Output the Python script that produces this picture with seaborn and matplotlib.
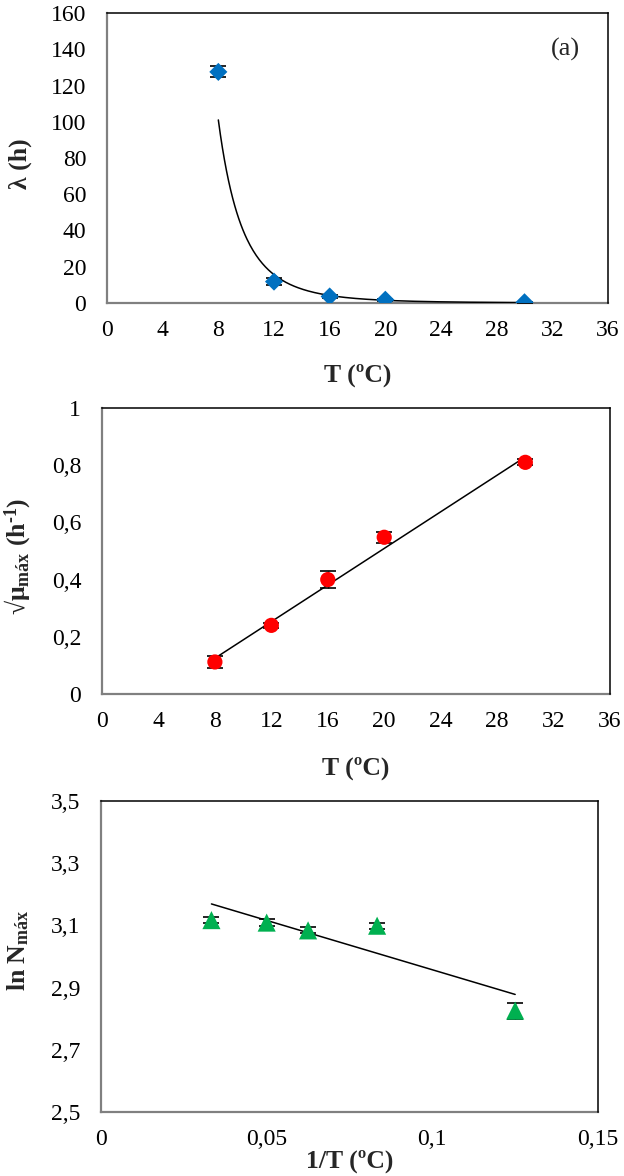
import numpy as np
import pandas as pd
import seaborn as sns
import matplotlib
matplotlib.use("Agg")
import matplotlib.pyplot as plt
from matplotlib.ticker import FuncFormatter, MultipleLocator

# ---------------- data ----------------
T = [8, 12, 16, 20, 30]
lam = [127.5, 11.8, 3.6, 1.8, 0.4]
lam_err = [3.0, 2.0, 0.6, 0.5, 0.3]
lam_fit_a = 101.0          # power-law trendline value at T = 8
lam_fit_b = -4.6           # power-law exponent

sqrt_mu = [0.112, 0.240, 0.400, 0.548, 0.810]
sqrt_mu_err = [0.02, 0.01, 0.03, 0.02, 0.01]
mu_fit_start = 0.125       # line value at T = 8
mu_fit_slope = 0.0320

invT = [1 / 30, 1 / 20, 1 / 16, 1 / 12, 1 / 8]
lnN = [3.117, 3.109, 3.084, 3.099, 2.826]
lnN_err = [0.01, 0.01, 0.01, 0.01, 0.026]
lnN_fit = [3.169, 2.878]   # trendline at the first and last 1/T

xticks_T = [0, 4, 8, 12, 16, 20, 24, 28, 32, 36]
yticks_lam = [0, 20, 40, 60, 80, 100, 120, 140, 160]
yticks_mu = [0, 0.2, 0.4, 0.6, 0.8, 1.0]
xticks_inv = [0, 0.05, 0.10, 0.15]
yticks_lnN = [2.5, 2.7, 2.9, 3.1, 3.3, 3.5]

# ---------------- style ----------------
sns.set_style("white")
plt.rcParams["font.family"] = ["Liberation Serif", "DejaVu Serif"]
plt.rcParams["mathtext.fontset"] = "custom"
plt.rcParams["mathtext.rm"] = "Liberation Serif"
plt.rcParams["mathtext.it"] = "Liberation Serif:italic"
plt.rcParams["mathtext.bf"] = "Liberation Serif:bold"

TICK_FS = 17
LAB_FS = 18.5

fig = plt.figure(figsize=(6.24, 11.76), dpi=100)
W, H = 624, 1176


def add_axes(left, right, top, bottom):
    return fig.add_axes([left / W, 1 - bottom / H, (right - left) / W, (bottom - top) / H])


ax1 = add_axes(107, 608, 13, 303)
ax2 = add_axes(102, 610, 408, 694)
ax3 = add_axes(101, 598, 801, 1112)

comma = FuncFormatter(lambda v, p: ("%g" % round(v, 4)).replace(".", ","))


def style_axes(ax, xt, yt):
    ax.set_xticks(xt)
    ax.set_yticks(yt)
    for side in ["top", "right"]:
        ax.spines[side].set_color("black")
        ax.spines[side].set_linewidth(1.1)
    for side in ["left", "bottom"]:
        ax.spines[side].set_color("#808080")
        ax.spines[side].set_linewidth(1.6)
        ax.spines[side].set_zorder(1)
    ax.tick_params(axis="both", length=0, labelsize=TICK_FS, colors="black")
    ax.tick_params(axis="y", pad=15)
    ax.tick_params(axis="x", pad=12)
    ax.xaxis.set_major_formatter(comma)
    ax.yaxis.set_major_formatter(comma)
    ax.grid(False)


# ---------- panel (a) ----------
df1 = pd.DataFrame({"T": T, "lam": lam})
ax1.errorbar(T, lam, yerr=lam_err, fmt="none", ecolor="black", elinewidth=1.0,
             capsize=6, capthick=1.2, zorder=2)
Tc = np.linspace(T[0], T[-1], 300)
df1c = pd.DataFrame({"T": Tc, "fit": lam_fit_a * (Tc / T[0]) ** lam_fit_b})
sns.lineplot(data=df1c, x="T", y="fit", ax=ax1, color="black", linewidth=1.1, zorder=3)
sns.scatterplot(data=df1, x="T", y="lam", ax=ax1, marker="D", s=85, color="#0070C0",
                edgecolor="none", zorder=4)
ax1.set_xlim(0, 36)
ax1.set_ylim(0, 160)
ax1.text(0.915, 0.875, "(a)", transform=ax1.transAxes, fontsize=19, ha="center", va="center")
style_axes(ax1, xticks_T, yticks_lam)
ax1.set_xlabel("T (ºC)", fontsize=LAB_FS, fontweight="bold", va="center")
ax1.xaxis.set_label_coords(0.5, (303 - 375) / 290)
ax1.set_ylabel("λ (h)", fontsize=LAB_FS, fontweight="bold", va="center")
ax1.yaxis.set_label_coords((20 - 107) / 501, 0.48)

# ---------- panel (b) ----------
df2 = pd.DataFrame({"T": T, "mu": sqrt_mu})
ax2.errorbar(T, sqrt_mu, yerr=sqrt_mu_err, fmt="none", ecolor="black", elinewidth=1.0,
             capsize=6, capthick=1.2, zorder=2)
Tl = np.array([T[0], T[-1]], dtype=float)
df2l = pd.DataFrame({"T": Tl, "fit": mu_fit_start + mu_fit_slope * (Tl - T[0])})
sns.lineplot(data=df2l, x="T", y="fit", ax=ax2, color="black", linewidth=1.1, zorder=3)
sns.scatterplot(data=df2, x="T", y="mu", ax=ax2, marker="o", s=120, color="#FF0000",
                edgecolor="none", zorder=4)
ax2.set_xlim(0, 36)
ax2.set_ylim(0, 1)
style_axes(ax2, xticks_T, yticks_mu)
ax2.set_xlabel("T (ºC)", fontsize=LAB_FS, fontweight="bold", va="center")
ax2.xaxis.set_label_coords(0.5, (694 - 768) / 286)
ax2.set_ylabel("√μ$_{\\mathbf{máx}}$ (h$^{\\mathbf{‐1}}$)", fontsize=LAB_FS,
               fontweight="bold", va="center")
ax2.yaxis.set_label_coords((18 - 102) / 508, 0.48)

# ---------- panel (c) ----------
df3 = pd.DataFrame({"invT": invT, "lnN": lnN})
ax3.errorbar(invT, lnN, yerr=lnN_err, fmt="none", ecolor="black", elinewidth=1.0,
             capsize=6, capthick=1.2, zorder=2)
df3l = pd.DataFrame({"invT": [invT[0], invT[-1]], "fit": lnN_fit})
sns.lineplot(data=df3l, x="invT", y="fit", ax=ax3, color="black", linewidth=1.1, zorder=3)
sns.scatterplot(data=df3, x="invT", y="lnN", ax=ax3, marker="^", s=170, color="#00B050",
                edgecolor="none", zorder=4)
ax3.set_xlim(0, 0.15)
ax3.set_ylim(2.5, 3.5)
style_axes(ax3, xticks_inv, yticks_lnN)
ax3.set_xlabel("1/T (ºC)", fontsize=LAB_FS, fontweight="bold", va="center")
ax3.xaxis.set_label_coords(0.5, (1112 - 1161) / 311)
ax3.set_ylabel(r"ln N$_{\mathbf{máx}}$", fontsize=LAB_FS, fontweight="bold", va="center")
ax3.yaxis.set_label_coords((18 - 101) / 497, 0.52)

fig.savefig("out.png", dpi=100)
